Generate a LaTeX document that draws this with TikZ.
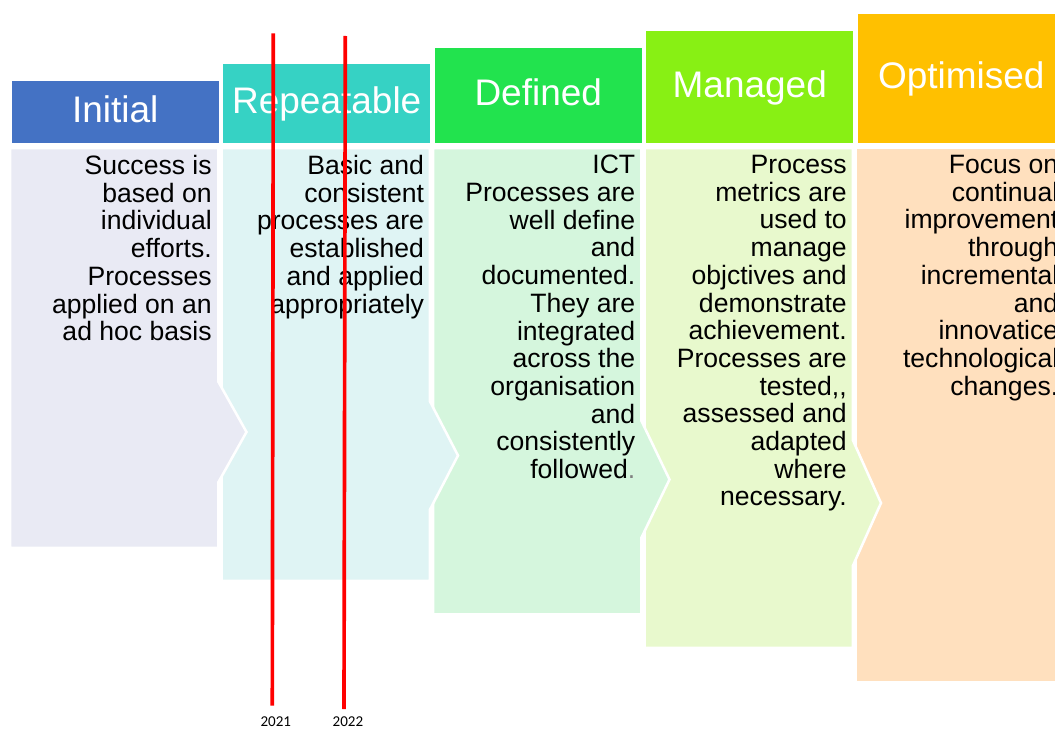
\documentclass[tikz,border=0pt]{standalone}
\usepackage{fontspec}
\setmainfont{Liberation Sans}
\newfontfamily\yearfont{Carlito}
\usepackage{xcolor}
\usetikzlibrary{positioning}
\definecolor{MMInitial}{HTML}{4472C4}
\definecolor{MMRepeat}{HTML}{36D2C4}
\definecolor{MMDefined}{HTML}{22E34E}
\definecolor{MMManaged}{HTML}{88F014}
\definecolor{MMOptim}{HTML}{FFC000}
\definecolor{MMInitialBg}{HTML}{E9EAF4}
\definecolor{MMRepeatBg}{HTML}{DFF4F4}
\definecolor{MMDefinedBg}{HTML}{D5F6DD}
\definecolor{MMManagedBg}{HTML}{E8F9CD}
\definecolor{MMOptimBg}{HTML}{FFE0BE}

\begin{document}
\begin{tikzpicture}[
    x=0.025cm, y=-0.025cm,
    head/.style={draw=white,line width=1.4pt,anchor=south west,minimum width=5.2125cm,inner sep=0pt,
      text=white,text height=18.9pt,text depth=4.2pt,font=\fontsize{26.3}{30}\selectfont},
    body/.style={draw=white,line width=1.8pt},
    desc/.style={anchor=north east,align=right,inner sep=0pt,font=\fontsize{18.9}{19.7}\selectfont},
    marker/.style={draw=red,line width=2.6pt},
    year/.style={font=\yearfont\fontsize{10.7}{12}\selectfont,inner sep=0pt}
  ]
  \useasboundingbox (0,0) rectangle (1055,729);
  \clip (0,0) rectangle (1055,729);

  % step bodies, last one first so each point sits on the next step
  \draw[body,fill=MMOptimBg] (856,148) rectangle (1064.5,682);
  \draw[body,fill=MMManagedBg] (644.5,148) -- (853,148) -- (853,440.5) -- (881,503) -- (853,565.5)
    -- (853,648) -- (644.5,648) -- cycle;
  \draw[body,fill=MMDefinedBg] (433,148) -- (641.5,148) -- (641.5,421) -- (669.5,479.5) -- (641.5,537.5)
    -- (641.5,614.5) -- (433,614.5) -- cycle;
  \draw[body,fill=MMRepeatBg] (221.5,148) -- (430,148) -- (430,401.5) -- (458,455.5) -- (430,509.5)
    -- (430,581) -- (221.5,581) -- cycle;
  \draw[body,fill=MMInitialBg] (10,148) -- (218.5,148) -- (218.5,382) -- (246.5,432) -- (218.5,482)
    -- (218.5,548) -- (10,548) -- cycle;

  % headers
  \node[head,fill=MMInitial,minimum height=1.6cm] (hInitial) at (10,145) {Initial};
  \node[head,fill=MMRepeat,minimum height=2.025cm] (hRepeat) at (221.5,145) {Repeatable};
  \node[head,fill=MMDefined,minimum height=2.425cm] (hDefined) at (433,145) {Defined};
  \node[head,fill=MMManaged,minimum height=2.85cm] (hManaged) at (644.5,145) {Managed};
  \node[head,fill=MMOptim,minimum height=3.275cm] (hOptim) at (856,145) {Optimised};

  % descriptions
  \node[desc] (tInitial) at (212,155) {Success is\\based on\\individual\\efforts.\\Processes\\applied on an\\ad hoc basis};
  \node[desc] (tRepeat) at (424.3,155) {Basic and\\consistent\\processes are\\established\\and applied\\appropriately};
  \node[desc] (tDefined) at (635.5,155) {ICT\\Processes are\\well define\\and\\documented.\\They are\\integrated\\across the\\organisation\\and\\consistently\\followed\textcolor{gray}{.}};
  \node[desc] (tManaged) at (847,155) {Process\\metrics are\\used to\\manage\\objctives and\\demonstrate\\achievement.\\Processes are\\tested,{},\\assessed and\\adapted\\where\\necessary.};
  \node[desc] (tOptim) at (1058.5,155) {Focus on\\continual\\improvement\\through\\incremental\\and\\innovatice\\technological\\changes.};

  % year markers
  \coordinate (top2021) at (273.3,33.3);
  \coordinate (end2021) at (272.3,705.7);
  \coordinate (top2022) at (345.3,36);
  \coordinate (end2022) at (344,709);
  \draw[marker] (top2021) -- (end2021);
  \draw[marker] (top2022) -- (end2022);
  \node[year,below=11pt of end2021,xshift=2.5pt,anchor=center] (y2021) {2021};
  \node[year,below=9pt of end2022,xshift=2.8pt,anchor=center] (y2022) {2022};
\end{tikzpicture}
\end{document}
